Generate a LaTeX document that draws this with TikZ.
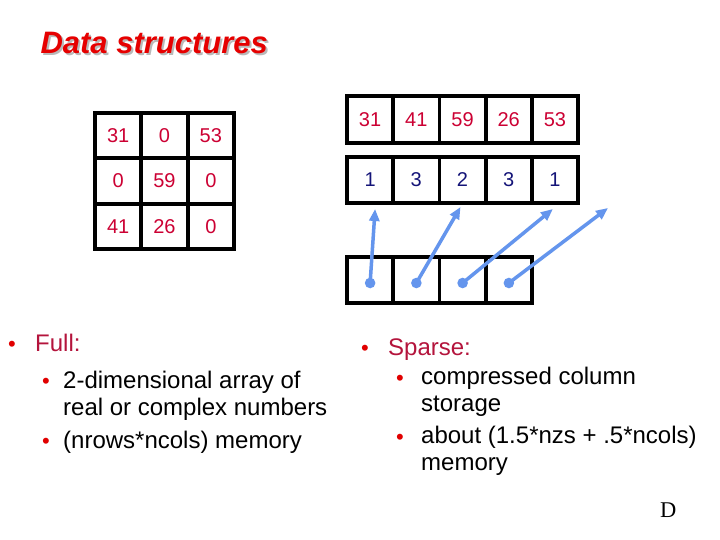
\documentclass[tikz,border=0pt]{standalone}
\usepackage{fontspec}
\setmainfont{Liberation Sans}
\newfontfamily\serifD{Liberation Serif}
\usetikzlibrary{positioning,arrows.meta,calc}

\definecolor{ttlred}{RGB}{230,0,0}
\definecolor{numred}{RGB}{204,0,51}
\definecolor{headred}{RGB}{180,20,60}
\definecolor{idxblue}{RGB}{20,20,120}
\definecolor{ptrblue}{RGB}{100,149,237}
\definecolor{dotred}{RGB}{225,0,0}

\begin{document}
\begin{tikzpicture}[
    x=1pt, y=-1pt,
    cell/.style={draw, line width=3.7pt, inner sep=0pt, minimum width=46.3pt,
                 minimum height=46.3pt, font=\fontsize{20}{22}\selectfont},
    fcell/.style={cell, minimum height=45.3pt, text=numred},
    valcell/.style={cell, minimum height=47pt, text=numred},
    idxcell/.style={cell, text=idxblue},
    ptrcell/.style={cell},
    ptr/.style={-{Triangle[length=12pt, width=10pt]}, line width=3.5pt, ptrblue},
    title/.style={font=\fontsize{31}{34}\selectfont\bfseries\itshape, anchor=base west},
    lvlone/.style={font=\fontsize{24}{27}\selectfont, anchor=base west, headred,
                   inner sep=0pt},
    lvltwo/.style={font=\fontsize{24}{26.5}\selectfont, anchor=base west, align=left,
                   inner sep=0pt},
    bul/.style={font=\fontsize{22}{24}\selectfont, dotred, anchor=base, inner sep=0pt},
  ]
  \useasboundingbox[fill=white] (0,0) rectangle (720,540);

  % ===== title =====
  \node[title, gray!55] (ttlshadow) at (39,56) {Data structures};
  \node[title, ttlred] (ttl) at (37,54) {Data structures};

  % ===== full 3x3 matrix =====
  \foreach \row [count=\r] in {{31,0,53},{0,59,0},{41,26,0}}
    \foreach \v [count=\c] in \row
      \node[fcell] (f\r\c) at ({95+46.33*(\c-.5)}, {113+45.33*(\r-.5)}) {\v};

  % ===== compressed column storage =====
  \foreach \v [count=\c] in {31,41,59,26,53}
    \node[valcell] (v\c) at ({347+46.2*(\c-.5)}, 119.5) {\v};
  \foreach \v [count=\c] in {1,3,2,3,1}
    \node[idxcell] (i\c) at ({347+46.2*(\c-.5)}, 180) {\v};
  \foreach \c in {1,...,4}
    \node[ptrcell] (p\c) at ({347+46.25*(\c-.5)}, 280) {};

  % ===== column pointers =====
  \foreach \c in {1,...,4}
    \coordinate (d\c) at ($(p\c.center)+(0,3)$);
  \coordinate (pend) at (608,208);   % one past the last entry
  \draw[ptr] (d1) -- ([xshift=5pt, yshift=-4pt]i1.south);
  \draw[ptr] (d2) -- ([xshift=-2pt, yshift=-2pt]i3.south);
  \draw[ptr] (d3) -- ([xshift=-2pt, yshift=-4pt]i5.south);
  \draw[ptr] (d4) -- (pend);
  \foreach \c in {1,...,4}
    \fill[ptrblue] (d\c) circle (5.3pt);

  % ===== bullets, left =====
  \node[lvlone] (full) at (35,351) {Full:};
  \node[lvltwo] (fullA) at (63,415) {2-dimensional array of\\real or complex numbers};
  \node[lvltwo] (fullB) at (63,448) {(nrows*ncols) memory};
  \node[bul] (bfull) at (12,351) {•};
  \node[bul] (bfullA) at (46,388) {•};
  \node[bul] (bfullB) at (46,448) {•};

  % ===== bullets, right =====
  \node[lvlone] (sparse) at (388,355) {Sparse:};
  \node[lvltwo] (sparseA) at (421,411) {compressed column\\storage};
  \node[lvltwo] (sparseB) at (421,470) {about (1.5*nzs + .5*ncols)\\memory};
  \node[bul] (bsparse) at (365,355) {•};
  \node[bul] (bsparseA) at (400,385) {•};
  \node[bul] (bsparseB) at (400,444) {•};

  \node[font=\fontsize{22.5}{24}\serifD, anchor=base west, inner sep=0pt] (pg) at (660,517) {D};

\end{tikzpicture}
\end{document}
